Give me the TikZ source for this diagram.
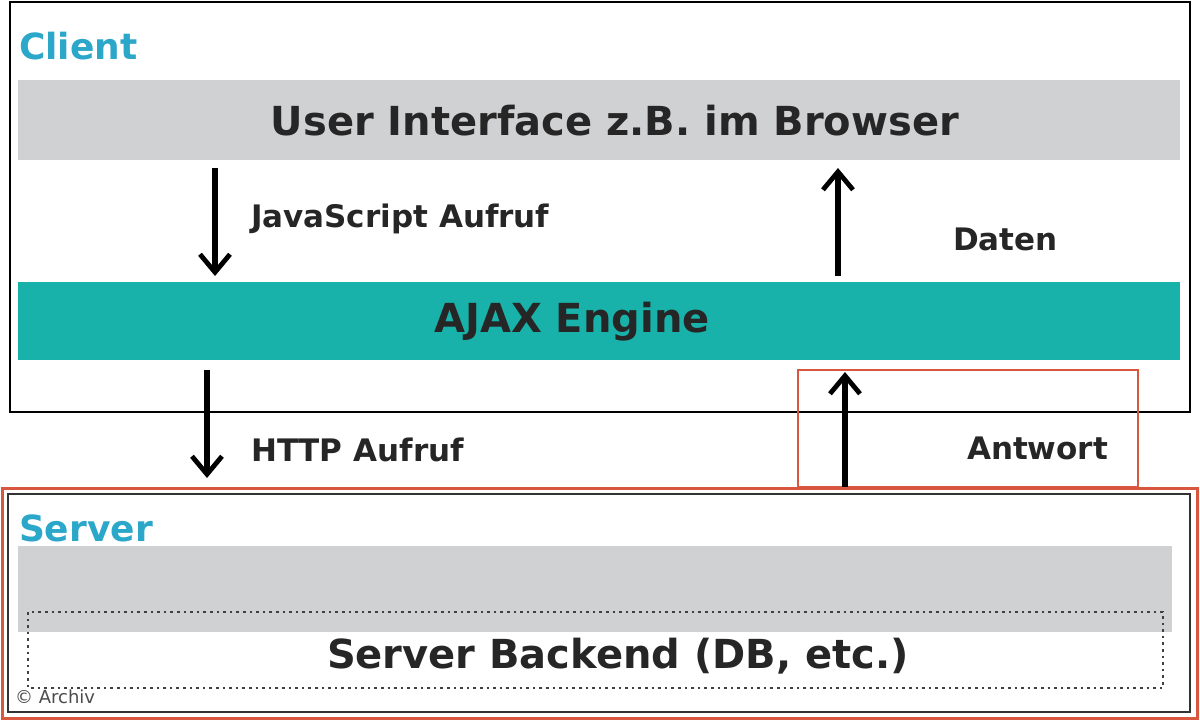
\documentclass[tikz,border=0pt]{standalone}
\usepackage{fontspec}
\setmainfont{DejaVu Sans}
\usetikzlibrary{arrows.meta}
\definecolor{teal1}{HTML}{19B2AA}
\definecolor{ttl}{HTML}{2AA7C9}
\definecolor{gbar}{HTML}{D0D1D3}
\definecolor{redb}{HTML}{D9573E}
\tikzset{
  lbl/.style={font=\bfseries\fontsize{15.5}{18}\selectfont, anchor=west, text=black!85},
  big/.style={font=\bfseries\fontsize{20}{24}\selectfont, text=black!85},
  ttlt/.style={font=\bfseries\fontsize{18}{22}\selectfont, text=ttl, anchor=west},
  arr/.style={line width=2.6pt, -{Straight Barb[length=9pt,width=15pt,line width=2.4pt]}}
}
\begin{document}
\begin{tikzpicture}[x=0.5pt,y=-0.5pt]
\useasboundingbox (0,0) rectangle (1200,720);
\fill[white] (0,0) rectangle (1200,720);
\draw[line width=1.2pt] (10,2) rectangle (1190,412);
\node[ttlt] (client) at (12,46) {Client};
\fill[gbar] (18,80) rectangle (1180,160);
\node[big] (ui) at (615,121) {User Interface z.B. im Browser};
\fill[teal1] (18,282) rectangle (1180,360);
\node[big] (ajax) at (572,322) {AJAX Engine};
\coordinate (a1s) at (215,168); \coordinate (a1e) at (215,276);
\draw[arr] (a1s) -- (a1e);
\node[lbl] (js) at (244,219) {JavaScript Aufruf};
\coordinate (a2s) at (838,276); \coordinate (a2e) at (838,168);
\draw[arr] (a2s) -- (a2e);
\node[lbl] (daten) at (946,239) {Daten};
\coordinate (a3s) at (207,370); \coordinate (a3e) at (207,478);
\draw[arr] (a3s) -- (a3e);
\node[lbl] (http) at (244,450) {HTTP Aufruf};
\draw[redb, line width=1.3pt] (798,370) rectangle (1138,487);
\coordinate (a4s) at (845,487); \coordinate (a4e) at (845,372);
\draw[arr] (a4s) -- (a4e);
\node[lbl] (antw) at (960,448) {Antwort};
\draw[redb, line width=1.5pt] (2,488) rectangle (1197,718);
\draw[line width=1.2pt, black!80] (8,494) rectangle (1190,712);
\node[ttlt] (server) at (12,528) {Server};
\fill[gbar] (18,546) rectangle (1172,632);
\draw[dotted, line width=1.3pt, black!75] (28,612) rectangle (1163,688);
\node[big] (backend) at (618,656) {Server Backend (DB, etc.)};
\node[font=\fontsize{9}{10}\selectfont, text=black!70, anchor=west] (arch) at (8,697) {© Archiv};
\end{tikzpicture}
\end{document}
